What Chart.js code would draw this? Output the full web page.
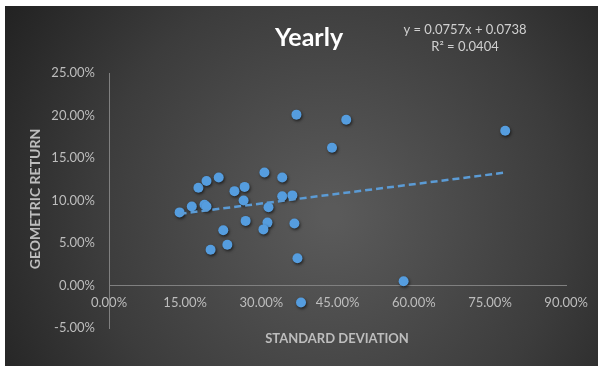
<!DOCTYPE html>
<html lang="en">
<head>
    <meta charset="UTF-8">
    <title>Yearly</title>
    <script src="https://cdn.jsdelivr.net/npm/chart.js"></script>
    <style>
        html, body { margin: 0; padding: 0; background: #fff; }
        .chart-container { width: 598px; height: 366px; position: relative; }
    </style>
</head>
<body>
    <div class="chart-container">
        <canvas id="yearlyChart"></canvas>
    </div>

    <script>
        // standard deviation (x) and geometric return (y)
        const stdDev = [0.139, 0.163, 0.188, 0.192, 0.176, 0.192, 0.216, 0.247, 0.267, 0.265,
                        0.306, 0.341, 0.341, 0.361, 0.369, 0.314, 0.225, 0.233, 0.200, 0.269,
                        0.312, 0.304, 0.365, 0.371, 0.378, 0.467, 0.439, 0.780, 0.580];
        const geoReturn = [0.086, 0.093, 0.095, 0.093, 0.115, 0.123, 0.127, 0.111, 0.116, 0.100,
                           0.133, 0.127, 0.105, 0.106, 0.201, 0.092, 0.065, 0.048, 0.042, 0.076,
                           0.074, 0.066, 0.073, 0.032, -0.020, 0.195, 0.162, 0.182, 0.005];

        // linear trendline shown on the chart
        const slope = 0.0757;
        const intercept = 0.0738;
        const rSquared = 0.0404;

        const xTicks = [0, 0.15, 0.30, 0.45, 0.60, 0.75, 0.90];
        const yTicks = [-0.05, 0, 0.05, 0.10, 0.15, 0.20, 0.25];

        const points = stdDev.map((x, i) => ({ x: x, y: geoReturn[i] }));
        const xLo = Math.min(...stdDev), xHi = Math.max(...stdDev);
        const trend = [
            { x: xLo, y: slope * xLo + intercept },
            { x: xHi, y: slope * xHi + intercept }
        ];

        const pct = v => (v * 100).toFixed(2) + '%';
        const FONT = 'Lato, "Open Sans", sans-serif';

        // dark backdrop + all the free text
        const decor = {
            id: 'decor',
            beforeDraw(chart) {
                const c = chart.ctx, w = chart.width, h = chart.height;
                c.save();
                c.fillStyle = '#fff';
                c.fillRect(0, 0, w, h);
                const g = c.createRadialGradient(330, 215, 10, 330, 215, 420);
                g.addColorStop(0, '#5a5a5a');
                g.addColorStop(0.55, '#3c3c3c');
                g.addColorStop(1, '#1c1c1c');
                c.fillStyle = g;
                c.fillRect(5, 6, w - 5, h - 6);
                c.restore();
            },
            afterDraw(chart) {
                const c = chart.ctx;
                c.save();
                c.textAlign = 'center';
                c.textBaseline = 'middle';
                c.fillStyle = '#ffffff';
                c.font = 'bold 25px ' + FONT;
                c.fillText('Yearly', 309, 38);

                c.fillStyle = '#d0d0d0';
                c.font = '13px ' + FONT;
                c.fillText('y = ' + slope.toFixed(4) + 'x + ' + intercept.toFixed(4), 465, 30);
                c.fillText('R² = ' + rSquared.toFixed(4), 465, 47);

                c.fillStyle = '#bdbdbd';
                c.font = 'bold 13px ' + FONT;
                c.fillText('STANDARD DEVIATION', 337, 339);
                c.translate(35, 199);
                c.rotate(-Math.PI / 2);
                c.font = 'bold 14px ' + FONT;
                c.fillText('GEOMETRIC RETURN', 0, 0);
                c.restore();
            },
            beforeDatasetDraw(chart, args) {
                if (args.index === 0) {
                    const c = chart.ctx;
                    c.save();
                    c.shadowColor = 'rgba(0,0,0,0.6)';
                    c.shadowBlur = 3;
                    c.shadowOffsetX = 1;
                    c.shadowOffsetY = 1.5;
                }
            },
            afterDatasetDraw(chart, args) {
                if (args.index === 0) chart.ctx.restore();
            }
        };

        const ctx = document.getElementById('yearlyChart').getContext('2d');
        new Chart(ctx, {
            type: 'scatter',
            data: {
                datasets: [
                    {
                        label: 'Yearly',
                        data: points,
                        backgroundColor: '#559ddf',
                        borderWidth: 0,
                        pointRadius: 5,
                        order: 1
                    },
                    {
                        type: 'line',
                        label: 'Trend',
                        data: trend,
                        borderColor: '#5b9bd5',
                        borderWidth: 2.5,
                        borderDash: [7, 4],
                        pointRadius: 0,
                        fill: false,
                        order: 0
                    }
                ]
            },
            options: {
                responsive: true,
                maintainAspectRatio: false,
                animation: false,
                layout: { padding: { left: 9, right: 30, top: 73, bottom: 38 } },
                plugins: {
                    legend: { display: false },
                    tooltip: { enabled: false }
                },
                scales: {
                    x: {
                        type: 'linear',
                        position: { y: 0 },
                        min: 0,
                        max: 0.9,
                        afterFit: s => { s.height = 0; },
                        afterBuildTicks: s => { s.ticks = xTicks.map(v => ({ value: v })); },
                        grid: { display: false, drawTicks: false },
                        border: { display: true, color: '#808080', width: 1 },
                        ticks: {
                            color: '#bdbdbd',
                            font: { family: FONT, size: 13 },
                            padding: 10,
                            maxRotation: 0,
                            callback: v => pct(v)
                        }
                    },
                    y: {
                        type: 'linear',
                        min: -0.05,
                        max: 0.25,
                        afterFit: s => { s.width = 100; },
                        afterBuildTicks: s => { s.ticks = yTicks.map(v => ({ value: v })); },
                        grid: { display: false, drawTicks: false },
                        border: { display: true, color: '#808080', width: 1 },
                        ticks: {
                            color: '#bdbdbd',
                            font: { family: FONT, size: 13 },
                            padding: 14,
                            callback: v => pct(v)
                        }
                    }
                }
            },
            plugins: [decor]
        });
    </script>
</body>
</html>
